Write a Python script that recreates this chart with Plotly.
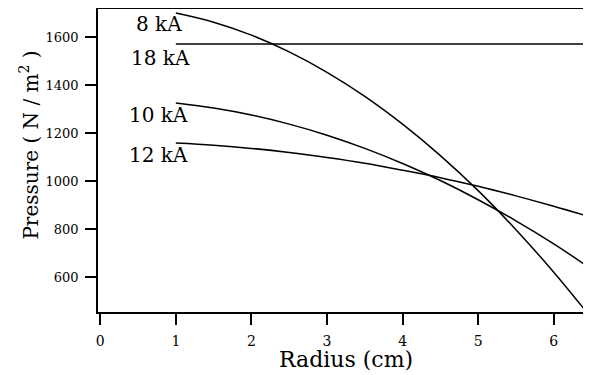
import plotly.graph_objects as go

radius = [1.0, 1.5, 2.0, 2.5, 3.0, 3.5, 4.0, 4.5, 5.0, 5.5, 6.0, 6.4]
p_8ka = [1700, 1662, 1608, 1538, 1453, 1353, 1237, 1106, 960, 797, 620, 467]
p_18ka = [1571, 1571, 1571, 1571, 1571, 1571, 1571, 1571, 1571, 1571, 1571, 1571]
p_10ka = [1325, 1304, 1275, 1237, 1191, 1136, 1073, 1002, 922, 834, 738, 654]
p_12ka = [1158, 1149, 1136, 1119, 1098, 1074, 1045, 1014, 978, 938, 895, 858]

labels = ["8 kA", "18 kA", "10 kA", "12 kA"]
series = [p_8ka, p_18ka, p_10ka, p_12ka]
label_x = [0.78, 0.8, 0.77, 0.77]
label_y = [1654, 1512, 1275, 1108]

FONT = "DejaVu Serif"

fig = go.Figure()
for name, vals in zip(labels, series):
    fig.add_trace(go.Scatter(x=radius, y=vals, mode="lines", name=name,
                             line=dict(color="black", width=1.5, shape="spline"),
                             showlegend=False))

for t, lx, ly in zip(labels, label_x, label_y):
    fig.add_annotation(x=lx, y=ly, text=t, showarrow=False, xanchor="center",
                       yanchor="middle", font=dict(family=FONT, size=20, color="black"))

# axis titles
fig.add_annotation(xref="paper", yref="paper", x=0.507, y=-0.158, text="Radius (cm)",
                   showarrow=False, xanchor="center", yanchor="middle",
                   font=dict(family=FONT, size=22, color="black"))
fig.add_annotation(xref="paper", yref="paper", x=-0.14, y=0.551,
                   text="Pressure ( N / m<sup>2</sup> )", textangle=-90,
                   showarrow=False, xanchor="center", yanchor="middle",
                   font=dict(family=FONT, size=20, color="black"))

axis_common = dict(showgrid=False, zeroline=False, showline=True, linecolor="black",
                   linewidth=1.5, mirror=True, ticks="outside", ticklen=11,
                   tickwidth=1.5, tickcolor="black", automargin=False)

fig.update_xaxes(range=[-0.03, 6.44], dtick=1, tick0=0, ticklabelstandoff=4,
                 tickfont=dict(family=FONT, size=14, color="black"), **axis_common)
fig.update_yaxes(range=[454, 1717], dtick=200, tick0=600, ticklabelstandoff=4,
                 tickfont=dict(family=FONT, size=13, color="black"), **axis_common)

# the page body has an 8px default margin, so the figure is sized to fit the window
fig.update_layout(width=583, height=367, margin=dict(l=90, r=4, t=1, b=63),
                  plot_bgcolor="white", paper_bgcolor="white")

fig.write_html("out.html")
